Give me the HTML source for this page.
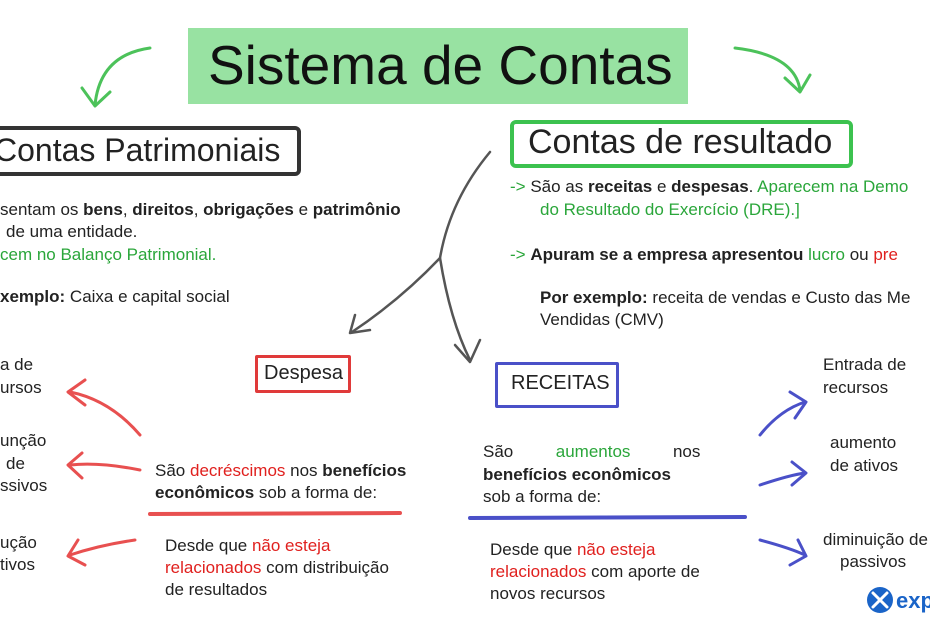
<!DOCTYPE html>
<html><head><meta charset="utf-8"><style>
body{margin:0;width:930px;height:620px;overflow:hidden;background:#fff;font-family:"Liberation Sans",sans-serif;color:#222;position:relative}
.t{position:absolute;font-size:17px;white-space:nowrap;line-height:22px}
.g{color:#2aa63a}.r{color:#e0201e}
.box{position:absolute;border:4px solid;border-radius:6px}
</style></head><body>
<div style="position:absolute;left:188px;top:28px;width:500px;height:76px;background:#86dd92;opacity:.85"></div>
<div class="t" style="left:208px;top:32px;font-size:55px;line-height:66px;color:#111">Sistema de Contas</div>
<div class="box" style="left:-12px;top:126px;width:305px;height:42px;border-color:#333"></div>
<div class="t" style="left:-6px;top:131px;font-size:32px;line-height:38px">Contas Patrimoniais</div>
<div class="box" style="left:510px;top:120px;width:335px;height:40px;border-color:#3cc24f"></div>
<div class="t" style="left:528px;top:122px;font-size:34px;line-height:40px">Contas de resultado</div>

<div class="t" style="left:0;top:199px">sentam os <b>bens</b>, <b>direitos</b>, <b>obrigações</b> e <b>patrimônio</b></div>
<div class="t" style="left:6px;top:221px">de uma entidade.</div>
<div class="t g" style="left:0;top:244px">cem no Balanço Patrimonial.</div>
<div class="t" style="left:0;top:286px"><b>xemplo:</b> Caixa e capital social</div>

<div class="t" style="left:510px;top:176px"><span class="g">-&gt;</span> São as <b>receitas</b> e <b>despesas</b>. <span class="g">Aparecem na Demo</span></div>
<div class="t g" style="left:540px;top:199px">do Resultado do Exercício (DRE).]</div>
<div class="t" style="left:510px;top:244px"><span class="g">-&gt;</span> <b>Apuram se a empresa apresentou</b> <span class="g">lucro</span> ou <span class="r">pre</span></div>
<div class="t" style="left:540px;top:287px"><b>Por exemplo:</b> receita de vendas e Custo das Me</div>
<div class="t" style="left:540px;top:309px">Vendidas (CMV)</div>

<div class="box" style="left:255px;top:355px;width:90px;height:32px;border-width:3px;border-color:#e03a3a;border-radius:2px"></div>
<div class="t" style="left:264px;top:361px;font-size:20px;line-height:24px">Despesa</div>
<div class="box" style="left:495px;top:362px;width:118px;height:40px;border-width:3px;border-color:#4a50c8;border-radius:2px"></div>
<div class="t" style="left:511px;top:371px;font-size:20px;line-height:24px">RECEITAS</div>

<div class="t" style="left:0;top:354px">a de</div><div class="t" style="left:0;top:377px">ursos</div>
<div class="t" style="left:0;top:430px">unção</div><div class="t" style="left:6px;top:453px">de</div><div class="t" style="left:0;top:475px">ssivos</div>
<div class="t" style="left:0;top:532px">ução</div><div class="t" style="left:0;top:554px">tivos</div>

<div class="t" style="left:155px;top:460px">São <span class="r">decréscimos</span> nos <b>benefícios</b></div>
<div class="t" style="left:155px;top:482px"><b>econômicos</b> sob a forma de:</div>
<div class="t" style="left:165px;top:535px">Desde que <span class="r">não esteja</span></div>
<div class="t" style="left:165px;top:557px"><span class="r">relacionados</span> com distribuição</div>
<div class="t" style="left:165px;top:579px">de resultados</div>

<div class="t" style="left:483px;top:441px">São&nbsp;&nbsp;&nbsp;&nbsp;&nbsp;&nbsp;&nbsp;&nbsp;&nbsp;<span class="g">aumentos</span>&nbsp;&nbsp;&nbsp;&nbsp;&nbsp;&nbsp;&nbsp;&nbsp;&nbsp;nos</div>
<div class="t" style="left:483px;top:464px"><b>benefícios econômicos</b></div>
<div class="t" style="left:483px;top:486px">sob a forma de:</div>
<div class="t" style="left:490px;top:539px">Desde que <span class="r">não esteja</span></div>
<div class="t" style="left:490px;top:561px"><span class="r">relacionados</span> com aporte de</div>
<div class="t" style="left:490px;top:583px">novos recursos</div>

<div class="t" style="left:823px;top:354px">Entrada de</div><div class="t" style="left:823px;top:377px">recursos</div>
<div class="t" style="left:830px;top:432px">aumento</div><div class="t" style="left:830px;top:455px">de ativos</div>
<div class="t" style="left:823px;top:529px">diminuição de</div><div class="t" style="left:840px;top:551px">passivos</div>

<svg width="930" height="620" style="position:absolute;left:0;top:0" fill="none" stroke-linecap="round" stroke-linejoin="round">
<g stroke="#4cc25a" stroke-width="3">
<path d="M150 48 Q100 55 95 105"/><path d="M82 88 L95 106 L110 92"/>
<path d="M735 48 Q795 55 800 90"/><path d="M785 78 L800 92 L810 75"/>
</g>
<g stroke="#555" stroke-width="2.5">
<path d="M490 152 Q450 200 440 258 Q400 300 352 332"/><path d="M355 315 L350 333 L370 330"/>
<path d="M440 258 Q450 320 470 360"/><path d="M455 345 L470 362 L480 340"/>
</g>
<g stroke="#e85050" stroke-width="3">
<path d="M140 435 Q110 400 70 392"/><path d="M85 380 L68 392 L85 405"/>
<path d="M140 470 Q100 462 70 465"/><path d="M82 453 L68 465 L82 478"/>
<path d="M135 540 Q100 545 70 555"/><path d="M78 540 L68 556 L85 565"/>
<path d="M150 514 L400 513" stroke-width="4"/>
</g>
<g stroke="#4a50c8" stroke-width="3">
<path d="M760 435 Q780 410 805 402"/><path d="M790 392 L806 402 L795 418"/>
<path d="M760 485 Q790 475 805 473"/><path d="M792 462 L806 473 L792 485"/>
<path d="M760 540 Q790 548 805 555"/><path d="M798 540 L806 556 L790 565"/>
<path d="M470 518 L745 517" stroke-width="4"/>
</g>
<circle cx="880" cy="600" r="13" fill="#1a64c8"/>
<path d="M873 593 L887 607 M887 593 L873 607" stroke="#fff" stroke-width="3"/>
</svg>
<div class="t" style="left:896px;top:588px;font-size:22px;line-height:26px;color:#1a64c8;font-weight:bold">exp</div>
</body></html>
